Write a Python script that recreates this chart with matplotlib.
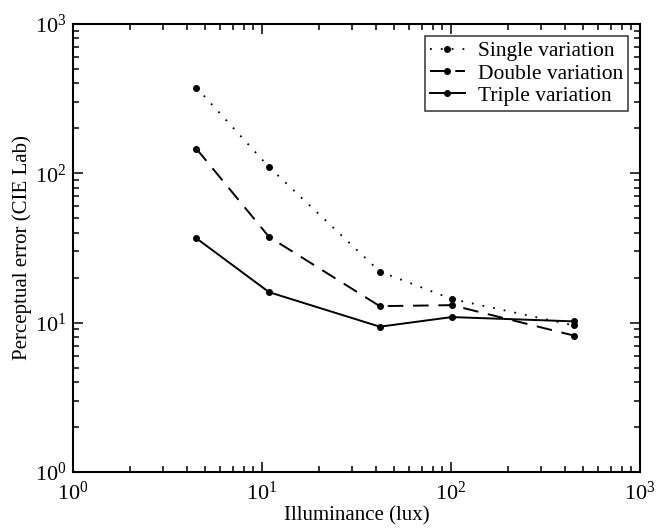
import matplotlib.pyplot as plt
import matplotlib.ticker as mticker

plt.rcParams['font.family'] = ['Liberation Serif', 'DejaVu Serif']
plt.rcParams['mathtext.fontset'] = 'stix'

# illuminance (lux)
lux = [4.5, 10.9, 42.0, 101.0, 446.0]

# perceptual error (CIE Lab)
single = [375.0, 110.0, 22.0, 14.4, 9.6]
double = [146.0, 37.5, 12.9, 13.1, 8.2]
triple = [36.7, 16.0, 9.4, 10.9, 10.2]

fig = plt.figure(figsize=(6.61, 5.29), dpi=100)
ax = fig.add_axes([73/661, 1 - 472/529, 567/661, 448/529])

ax.plot(lux, single, color='k', lw=1.3, dashes=(1, 5), marker='o', markersize=4, label='Single variation')
ax.plot(lux, double, color='k', lw=1.4, dashes=(8, 5), marker='o', markersize=4, label='Double variation')
ax.plot(lux, triple, '-', color='k', lw=1.4, marker='o', markersize=4, label='Triple variation')

ax.set_xscale('log')
ax.set_yscale('log')
ax.set_xlim(1, 1000)
ax.set_ylim(1, 1000)

ax.xaxis.set_major_locator(mticker.LogLocator(base=10, numticks=10))
ax.yaxis.set_major_locator(mticker.LogLocator(base=10, numticks=10))
ax.xaxis.set_minor_locator(mticker.LogLocator(base=10, subs=range(2, 10), numticks=20))
ax.yaxis.set_minor_locator(mticker.LogLocator(base=10, subs=range(2, 10), numticks=20))
ax.xaxis.set_minor_formatter(mticker.NullFormatter())
ax.yaxis.set_minor_formatter(mticker.NullFormatter())

ax.tick_params(which='both', direction='in', top=True, right=True, labelsize=16, width=1.1)
ax.tick_params(which='major', length=7)
ax.tick_params(axis='x', which='major', pad=7)
ax.tick_params(axis='y', which='major', pad=5)
ax.tick_params(which='minor', length=4)
for s in ax.spines.values():
    s.set_linewidth(1.5)

ax.set_xlabel('Illuminance (lux)', fontsize=15, labelpad=1)
ax.set_ylabel('Perceptual error (CIE Lab)', fontsize=15, labelpad=2)

leg = ax.legend(loc='upper right', fontsize=15.5, frameon=True, fancybox=False,
                edgecolor='k', handlelength=1.6, handletextpad=0.6,
                borderpad=0.25, labelspacing=0.1, borderaxespad=0.55)
leg.get_frame().set_linewidth(1.1)

fig.savefig('out.png', dpi=100)
